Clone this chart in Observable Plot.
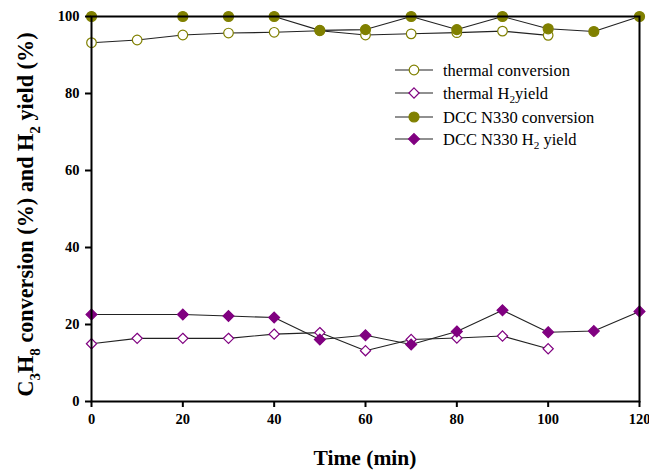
<!DOCTYPE html>
<html><head><meta charset="utf-8">
<script src="https://cdn.jsdelivr.net/npm/d3@7"></script>
<script src="https://cdn.jsdelivr.net/npm/@observablehq/plot@0.6"></script>
<style>body{margin:0;background:#fff}#chart svg{display:block}</style>
</head><body><div id="chart"></div>
<script>
const thermalTime = [0,10,20,30,40,50,60,70,80,90,100];
const thermalConversion = [93.2,93.9,95.2,95.7,95.9,96.3,95.2,95.5,95.8,96.2,95.1];
const thermalH2Yield = [15.0,16.4,16.4,16.4,17.5,17.9,13.2,16.1,16.5,17.0,13.7];
const dccTime = [0,20,30,40,50,60,70,80,90,100,110,120];
const dccConversion = [100,100,100,100,96.4,96.6,100,96.6,100,96.8,96.1,100];
const dccH2Yield = [22.6,22.6,22.2,21.8,16.1,17.2,14.8,18.2,23.7,18.0,18.3,23.4];
const xTicks = [0,20,40,60,80,100,120];
const yTicks = [0,20,40,60,80,100];
const xLabel = "Time (min)";

const OLIVE = "#808000", PURPLE = "#800080";
const rows = (t, v) => t.map((x, i) => ({x, y: v[i]}));
const series = [
  {name: [["thermal conversion"]], data: rows(thermalTime, thermalConversion), symbol: "circle", color: OLIVE, filled: false, r: 4.8},
  {name: [["thermal H"],["2",1],["yield"]], data: rows(thermalTime, thermalH2Yield), symbol: "diamond2", color: PURPLE, filled: false, r: 4.6},
  {name: [["DCC N330 conversion"]], data: rows(dccTime, dccConversion), symbol: "circle", color: OLIVE, filled: true, r: 5},
  {name: [["DCC N330 H"],["2",1],[" yield"]], data: rows(dccTime, dccH2Yield), symbol: "diamond2", color: PURPLE, filled: true, r: 4.9}
];

const marks = [];
for (const s of series) {
  marks.push(Plot.line(s.data, {x: "x", y: "y", stroke: "#222", strokeWidth: 1.1}));
  marks.push(Plot.dot(s.data, {x: "x", y: "y", symbol: () => s.symbol, r: s.r,
    fill: s.filled ? s.color : "white", stroke: s.color, strokeWidth: 1.2}));
}

const plot = Plot.plot({
  width: 649, height: 471,
  marginLeft: 91, marginRight: 10, marginTop: 16, marginBottom: 70,
  style: {fontFamily: "'Liberation Serif', 'Times New Roman', serif", background: "white", color: "black"},
  x: {domain: [0, 120]},
  y: {domain: [0, 100]},
  symbol: {type: "identity"},
  marks: [
    ...marks,
    Plot.frame({stroke: "black", strokeWidth: 2}),
    Plot.axisX({ticks: xTicks, tickSize: 6, tickPadding: 6, fontSize: 14.5, fontWeight: "bold", label: null, strokeWidth: 2, tickFormat: d => d}),
    Plot.axisY({ticks: yTicks, tickSize: 6, tickPadding: 6, fontSize: 14.5, fontWeight: "bold", label: null, strokeWidth: 2, tickFormat: d => d})
  ]
});
document.getElementById("chart").appendChild(plot);

const svg = d3.select(plot);
const xs = plot.scale("x"), ys = plot.scale("y");

function richText(t, parts, size) {
  let shift = 0;
  for (const [str, sub] of parts) {
    const target = sub ? size * 0.3 : 0;
    t.append("tspan").attr("dy", target - shift).attr("font-size", sub ? size * 0.68 : size).text(str);
    shift = target;
  }
  return t;
}

// axis titles
svg.append("text").attr("x", (xs.apply(0) + xs.apply(120)) / 2).attr("y", 465)
  .attr("text-anchor", "middle").attr("font-weight", "bold").attr("font-size", 21.5).text(xLabel);

const yl = svg.append("text").attr("text-anchor", "middle").attr("font-weight", "bold")
  .attr("transform", `translate(33,${(ys.apply(0) + ys.apply(100)) / 2 + 6}) rotate(-90)`);
richText(yl, [["C"],["3",1],["H"],["8",1],[" conversion (%) and H"],["2",1],[" yield (%)"]], 22.2);

// legend
const lg = svg.append("g");
const legendY = [70, 93, 117, 139];
series.forEach((s, i) => {
  const y = legendY[i];
  lg.append("line").attr("x1", 395).attr("x2", 433).attr("y1", y).attr("y2", y).attr("stroke", "#222").attr("stroke-width", 1.1);
  const sym = s.symbol === "circle" ? d3.symbolCircle : d3.symbolDiamond2;
  lg.append("path").attr("d", d3.symbol(sym, s.r * s.r * Math.PI)()).attr("transform", `translate(414,${y})`)
    .attr("fill", s.filled ? s.color : "white").attr("stroke", s.color).attr("stroke-width", 1.2);
  const t = lg.append("text").attr("x", 443).attr("y", y + 5.5).attr("text-anchor", "start");
  richText(t, s.name, 16.5);
});
</script>
</body></html>
